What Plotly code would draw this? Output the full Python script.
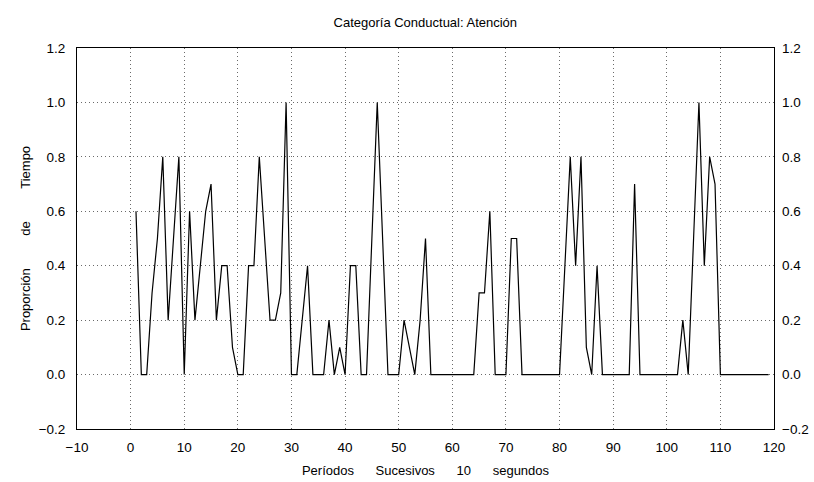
import plotly.graph_objects as go

# Data
periods = list(range(1, 120))
proportion = [
    0.6, 0.0, 0.0, 0.3, 0.5, 0.8, 0.2, 0.5, 0.8, 0.0,        # 1-10
    0.6, 0.2, 0.4, 0.6, 0.7, 0.2, 0.4, 0.4, 0.1, 0.0,        # 11-20
    0.0, 0.4, 0.4, 0.8, 0.5, 0.2, 0.2, 0.3, 1.0, 0.0,        # 21-30
    0.0, 0.2, 0.4, 0.0, 0.0, 0.0, 0.2, 0.0, 0.1, 0.0,        # 31-40
    0.4, 0.4, 0.0, 0.0, 0.5, 1.0, 0.5, 0.0, 0.0, 0.0,        # 41-50
    0.2, 0.1, 0.0, 0.2, 0.5, 0.0, 0.0, 0.0, 0.0, 0.0,        # 51-60
    0.0, 0.0, 0.0, 0.0, 0.3, 0.3, 0.6, 0.0, 0.0, 0.0,        # 61-70
    0.5, 0.5, 0.0, 0.0, 0.0, 0.0, 0.0, 0.0, 0.0, 0.0,        # 71-80
    0.4, 0.8, 0.4, 0.8, 0.1, 0.0, 0.4, 0.0, 0.0, 0.0,        # 81-90
    0.0, 0.0, 0.0, 0.7, 0.0, 0.0, 0.0, 0.0, 0.0, 0.0,        # 91-100
    0.0, 0.0, 0.2, 0.0, 0.5, 1.0, 0.4, 0.8, 0.7, 0.0,        # 101-110
    0.0, 0.0, 0.0, 0.0, 0.0, 0.0, 0.0, 0.0, 0.0,             # 111-119
]

title_text = "Categoría Conductual: Atención"
x_title = "Períodos" + "\u00a0" * 6 + "Sucesivos" + "\u00a0" * 6 + "10" + "\u00a0" * 6 + "segundos"
y_title = "Proporción" + "\u00a0" * 9 + "de" + "\u00a0" * 9 + "Tiempo"

FONT = "Liberation Sans, Arial, sans-serif"
GRID = "#6a6a6a"

fig = go.Figure()
fig.add_trace(go.Scatter(
    x=periods, y=proportion, mode="lines",
    line=dict(color="black", width=1.2),
    showlegend=False, hoverinfo="x+y",
))
# same series on the mirrored right axis (invisible), so the right scale is drawn
fig.add_trace(go.Scatter(
    x=periods, y=proportion, mode="lines", yaxis="y2",
    line=dict(color="rgba(0,0,0,0)", width=0),
    showlegend=False, hoverinfo="skip",
))

axis_common = dict(
    showline=True, linecolor="black", linewidth=1,
    showgrid=True, gridcolor=GRID, gridwidth=1, griddash="1px,3px",
    zeroline=False, ticks="",
    tickfont=dict(family=FONT, size=13.5, color="black"),
)

fig.update_layout(
    width=814, height=482,
    paper_bgcolor="white", plot_bgcolor="white",
    margin=dict(l=77, r=40, t=48, b=53, autoexpand=False),
    title=dict(text=title_text, x=0.5225, xanchor="center",
               y=1 - 22 / 482, yref="container", yanchor="middle",
               font=dict(family=FONT, size=13, color="black")),
    xaxis=dict(range=[-10, 120], dtick=10, tick0=0, mirror=True,
               ticklabelstandoff=6,
               title=dict(text=x_title, standoff=11,
                          font=dict(family=FONT, size=13, color="black")),
               **axis_common),
    yaxis=dict(range=[-0.2, 1.2], dtick=0.2, tick0=0, tickformat=".1f",
               mirror=True, ticklabelstandoff=8,
               title=dict(text=y_title, standoff=5,
                          font=dict(family=FONT, size=13, color="black")),
               **axis_common),
    yaxis2=dict(range=[-0.2, 1.2], dtick=0.2, tick0=0, tickformat=".1f",
                overlaying="y", side="right", showgrid=False, zeroline=False,
                showline=False, ticks="", ticklabelstandoff=7,
                tickfont=dict(family=FONT, size=13.5, color="black")),
)

fig.write_html("out.html", config={"displayModeBar": False},
               post_script="document.body.style.margin='0';")
